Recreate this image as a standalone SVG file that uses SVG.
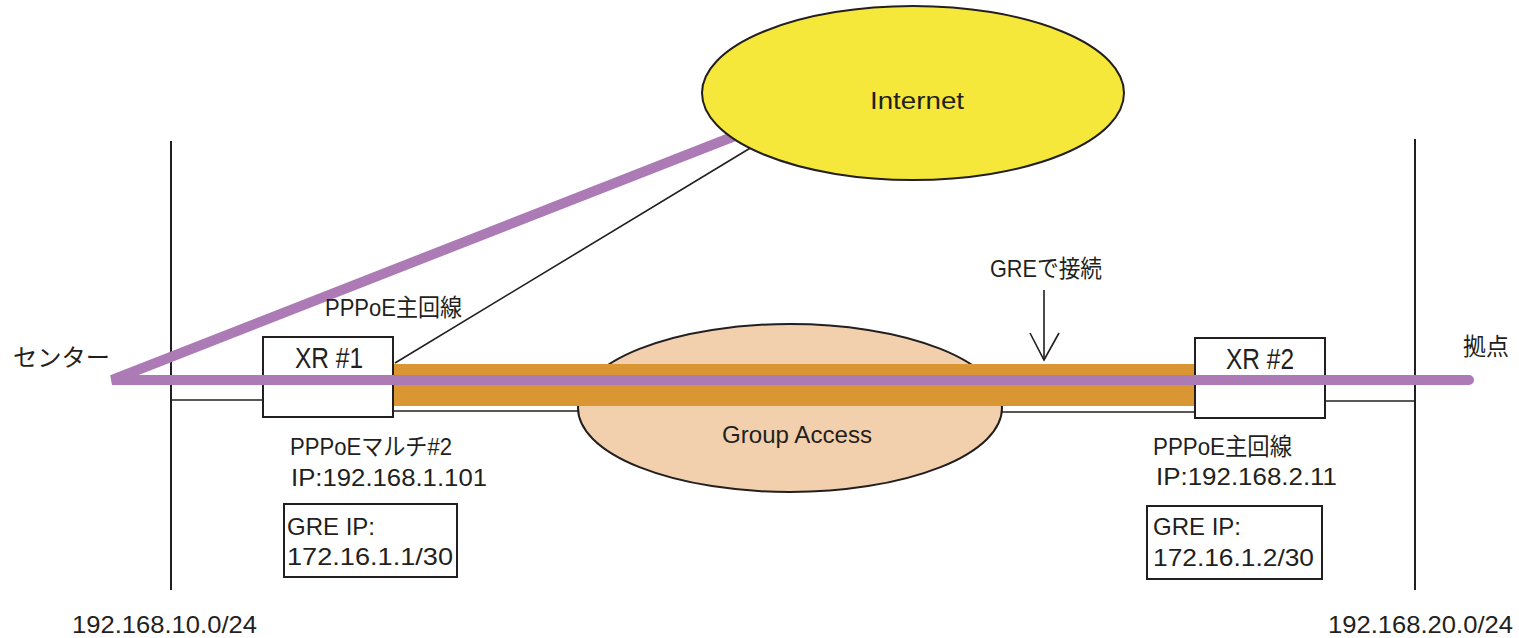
<svg xmlns="http://www.w3.org/2000/svg" width="1519" height="638" viewBox="0 0 1519 638">
  <style>
    .ln { stroke: #231f20; stroke-width: 2; fill: none; }
    .thin { stroke: #231f20; stroke-width: 1.6; fill: none; }
    .box { fill: #ffffff; stroke: #231f20; stroke-width: 2; }
    .lbl { font-family: "Liberation Sans", "Noto Sans CJK JP", sans-serif; font-size: 24px; fill: #231f20; }
    .big { font-size: 29px; }
  </style>

  <!-- LAN segments -->
  <g id="lan-center">
    <line class="ln" x1="171" y1="141" x2="171" y2="590"/>
    <text class="lbl" x="72" y="633" textLength="185" lengthAdjust="spacingAndGlyphs">192.168.10.0/24</text>
  </g>
  <g id="lan-branch">
    <line class="ln" x1="1415" y1="139" x2="1415" y2="590"/>
    <text class="lbl" x="1328" y="633" textLength="185" lengthAdjust="spacingAndGlyphs">192.168.20.0/24</text>
  </g>

  <!-- physical links -->
  <g id="connectors">
    <line class="thin" x1="171" y1="400" x2="263" y2="400"/>
    <line class="thin" x1="393" y1="411" x2="590" y2="411"/>
    <line class="thin" x1="990" y1="412" x2="1195" y2="412"/>
    <line class="thin" x1="1325" y1="401" x2="1415" y2="401"/>
  </g>

  <!-- closed network -->
  <g id="group-access">
    <ellipse cx="790" cy="408" rx="212" ry="84" fill="#f2d0ae" stroke="#231f20" stroke-width="2"/>
    <text class="lbl" x="722" y="443" textLength="150" lengthAdjust="spacingAndGlyphs">Group Access</text>
  </g>

  <!-- GRE tunnel -->
  <g id="gre-tunnel">
    <rect x="393" y="364" width="802" height="42" fill="#db9634"/>
  </g>

  <!-- routers -->
  <g id="xr1">
    <rect class="box" x="263" y="337" width="130" height="80"/>
    <text class="lbl big" x="295" y="368" textLength="68" lengthAdjust="spacingAndGlyphs">XR #1</text>
  </g>
  <g id="xr2">
    <rect class="box" x="1195" y="338" width="130" height="80"/>
    <text class="lbl big" x="1226" y="369" textLength="68" lengthAdjust="spacingAndGlyphs">XR #2</text>
  </g>

  <!-- traffic path -->
  <g id="route">
    <polyline points="740,134 112,380 1469,380" fill="none" stroke="#ac7bb6" stroke-width="10" stroke-linecap="round"/>
    <line class="thin" x1="395" y1="363" x2="752" y2="147"/>
  </g>

  <!-- internet cloud -->
  <g id="internet">
    <ellipse cx="913" cy="93" rx="211" ry="87" fill="#f5e83b" stroke="#231f20" stroke-width="2"/>
    <text class="lbl" x="870" y="109" textLength="94" lengthAdjust="spacingAndGlyphs" font-size="25">Internet</text>
  </g>

  <!-- GRE pointer -->
  <g id="gre-callout">
    <text class="lbl" x="990" y="277" textLength="112" lengthAdjust="spacingAndGlyphs">GREで接続</text>
    <line class="thin" x1="1044" y1="290" x2="1044" y2="359"/>
    <polyline class="thin" points="1030,333 1044,360 1059,333"/>
  </g>

  <!-- site labels -->
  <g id="site-center">
    <text class="lbl" x="13" y="366" textLength="97" lengthAdjust="spacingAndGlyphs">センター</text>
    <text class="lbl" x="325" y="316" textLength="137" lengthAdjust="spacingAndGlyphs">PPPoE主回線</text>
  </g>
  <g id="site-branch">
    <text class="lbl" x="1463" y="355" textLength="46" lengthAdjust="spacingAndGlyphs">拠点</text>
  </g>

  <!-- address info -->
  <g id="xr1-info">
    <text class="lbl" x="290" y="455" textLength="162" lengthAdjust="spacingAndGlyphs">PPPoEマルチ#2</text>
    <text class="lbl" x="291" y="486" textLength="196" lengthAdjust="spacingAndGlyphs">IP:192.168.1.101</text>
    <rect class="box" x="284" y="504" width="173" height="73"/>
    <text class="lbl" x="287" y="535" textLength="88" lengthAdjust="spacingAndGlyphs">GRE IP:</text>
    <text class="lbl" x="287" y="565" textLength="166" lengthAdjust="spacingAndGlyphs">172.16.1.1/30</text>
  </g>
  <g id="xr2-info">
    <text class="lbl" x="1153" y="455" textLength="139" lengthAdjust="spacingAndGlyphs">PPPoE主回線</text>
    <text class="lbl" x="1156" y="485" textLength="181" lengthAdjust="spacingAndGlyphs">IP:192.168.2.11</text>
    <rect class="box" x="1147" y="506" width="175" height="73"/>
    <text class="lbl" x="1153" y="535" textLength="88" lengthAdjust="spacingAndGlyphs">GRE IP:</text>
    <text class="lbl" x="1153" y="566" textLength="161" lengthAdjust="spacingAndGlyphs">172.16.1.2/30</text>
  </g>
</svg>
